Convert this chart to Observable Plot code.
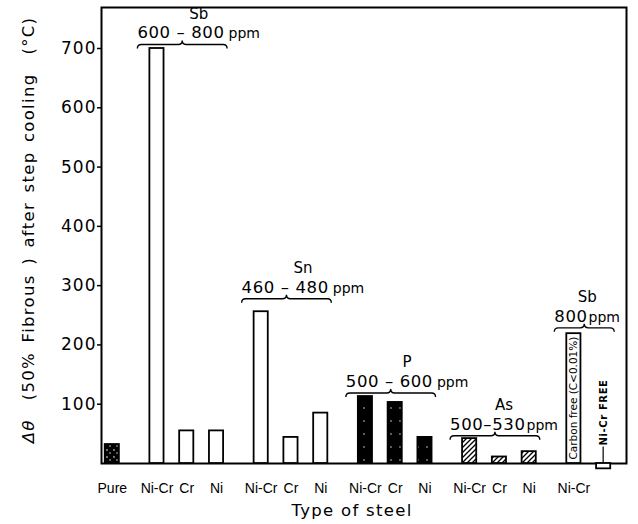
<!DOCTYPE html>
<html><head><meta charset="utf-8">
<script src="https://cdn.jsdelivr.net/npm/d3@7"></script>
<script src="https://cdn.jsdelivr.net/npm/@observablehq/plot@0.6"></script>
<style>
html,body{margin:0;padding:0;background:#fff;}
#chart{width:638px;height:524px;}
</style></head><body>
<svg width="0" height="0" style="position:absolute">
<defs>
 <pattern id="hatch" patternUnits="userSpaceOnUse" width="5" height="5">
   <rect width="5" height="5" fill="#fff"/>
   <path d="M-1,1 l2,-2 M0,5 l5,-5 M4,6 l2,-2" stroke="#000" stroke-width="1.3"/>
 </pattern>
 <pattern id="speck" patternUnits="userSpaceOnUse" width="9" height="13">
   <rect width="9" height="13" fill="#000"/>
   <circle cx="4" cy="5" r="0.7" fill="#fff"/>
 </pattern>
 <pattern id="speck2" patternUnits="userSpaceOnUse" width="7" height="7">
   <rect width="7" height="7" fill="#000"/>
   <circle cx="2" cy="2" r="0.8" fill="#fff"/>
   <circle cx="5" cy="5" r="0.7" fill="#fff"/>
 </pattern>
</defs></svg>
<div id="chart"></div>
<script>
// ---- data ----
const steels = ["Pure","Ni-Cr","Cr","Ni","Ni-Cr","Cr","Ni","Ni-Cr","Cr","Ni","Ni-Cr","Cr","Ni","Ni-Cr",""];
const elements = ["Pure","Sb","Sb","Sb","Sn","Sn","Sn","P","P","P","As","As","As","Sb*","Sb*"];
const deltaTheta = [32,700,55,55,256,44,85,113,103,44,42,11,20,219,-9];
const groupNames = ["Sb","Sn","P","As","Sb*"];
const groupElement = ["Sb","Sn","P","As","Sb"];
const groupContent = ["600 – 800","460 – 480","500 – 600","500–530","800"];
const groupPpmGap = [true,true,true,false,false];
const groupLevel = [706,277,118,46,228];
const yTicks = [100,200,300,400,500,600,700];
const carbonNote = "Carbon free (C<0.01%)";
const freeNote = "Ni-Cr FREE";
const freeNoteLevel = 28;
const xTitle = "Type of steel";
const yTitle = "(50% Fibrous ) after step cooling  (°C)";

// ---- layout helpers ----
const fillFor = el => el === "Pure" ? "url(#speck2)" : el === "P" ? "url(#speck)" : el === "As" ? "url(#hatch)" : "#fff";
const keys = [], domain = [];
deltaTheta.forEach((v, i) => {
  if (i > 0) {
    const gap = elements[i] === elements[i-1] ? 1 : 2;
    for (let g = 0; g < gap; g++) domain.push("gap" + domain.length);
  }
  keys.push("b" + i); domain.push("b" + i);
});
const data = deltaTheta.map((v, i) => ({key: keys[i], value: v, label: steels[i], fill: fillFor(elements[i])}));
const labelOf = Object.fromEntries(data.map(d => [d.key, d.label]));

const plot = Plot.plot({
  width: 638, height: 524,
  marginLeft: 101, marginRight: 12, marginTop: 7, marginBottom: 61,
  style: {fontFamily: "DejaVu Sans", fontSize: "13px", color: "#000", background: "#fff", overflow: "visible"},
  x: {type: "band", domain, range: [104.35, 610.6], paddingInner: 0.05, paddingOuter: 0.025,
      tickSize: 0, tickPadding: 20, tickFormat: k => labelOf[k] ?? "", label: null},
  y: {domain: [0, 700], range: [463, 48], ticks: yTicks, tickSize: 4, tickPadding: 1, label: null},
  color: {type: "identity"},
  marks: [
    Plot.frame({stroke: "#000", strokeWidth: 2}),
    Plot.barY(data, {x: "key", y: "value", fill: "fill", stroke: "#000", strokeWidth: 1.8})
  ]
});
document.getElementById("chart").appendChild(plot);

const svg = d3.select(plot);
svg.selectAll('g[aria-label^="y-axis"] text').attr("font-size", 17).attr("font-family", "DejaVu Sans").attr("letter-spacing", 1);
svg.selectAll('g[aria-label^="x-axis"] text').attr("font-size", 14).attr("font-family", "Liberation Sans");
svg.selectAll('g[aria-label^="y-axis"] line, g[aria-label^="y-axis"] path').attr("stroke-width", 1.5);

const xs = plot.scale("x"), ys = plot.scale("y");
const bw = xs.bandwidth;
const X = k => xs.apply(k);
const Y = v => ys.apply(v);
const ann = svg.append("g").attr("fill", "#000").attr("font-family", "DejaVu Sans").attr("text-anchor", "start");

// titles
ann.append("text").attr("x", 352).attr("y", Y(0) + 47).attr("text-anchor", "middle")
  .attr("dominant-baseline", "central").attr("font-size", 16.5).attr("letter-spacing", 1.3).text(xTitle);
const yt = ann.append("text").attr("transform", `translate(28,${(Y(0)+9)/2 - 6}) rotate(-90)`)
  .attr("text-anchor", "middle").attr("dominant-baseline", "central").attr("font-size", 16.5).attr("letter-spacing", 1.3)
  .attr("word-spacing", 3);
yt.append("tspan").attr("font-style", "italic").text("Δθ  ");
yt.append("tspan").text(yTitle);

// group brackets and labels
groupNames.forEach((name, gi) => {
  const idx = elements.map((e, i) => e === name ? i : -1).filter(i => i >= 0);
  const xa = X(keys[idx[0]]) - 12;
  const xb = X(keys[idx[idx.length - 1]]) + bw + 4;
  const y = Y(groupLevel[gi]);
  const xm = (xa + xb) / 2;
  ann.append("path").attr("fill", "none").attr("stroke", "#000").attr("stroke-width", 1.4)
    .attr("d", `M${xa},${y+4} Q${xa},${y} ${xa+4},${y} L${xm-4},${y} Q${xm},${y} ${xm},${y-4} Q${xm},${y} ${xm+4},${y} L${xb-4},${y} Q${xb},${y} ${xb},${y+4}`);
  const t = ann.append("text").attr("x", xa).attr("y", y - 6).attr("text-anchor", "start");
  t.append("tspan").attr("font-size", 16.5).attr("letter-spacing", 0.6).text(groupContent[gi]);
  t.append("tspan").attr("font-size", 14).attr("dx", groupPpmGap[gi] ? 4 : 1).text("ppm");
  const bb = t.node().getBBox();
  // element name above the concentration, kept below the frame's top edge
  ann.append("text").attr("x", bb.x + bb.width / 2).attr("y", Math.max(y - 31, 14)).attr("text-anchor", "middle")
    .attr("dominant-baseline", "central").attr("font-size", 15).text(groupElement[gi]);
});

// notes on the last two bars
const kC = keys[13], kF = keys[14];
ann.append("text").attr("transform", `translate(${X(kC) + bw/2},${Y(deltaTheta[13]/2)}) rotate(-90)`)
  .attr("text-anchor", "middle").attr("dominant-baseline", "central").attr("font-size", 10.5).text(carbonNote);
ann.append("line").attr("x1", X(kF) + bw/2).attr("x2", X(kF) + bw/2).attr("y1", Y(0)).attr("y2", Y(freeNoteLevel))
  .attr("stroke", "#000").attr("stroke-width", 1.2);
ann.append("text").attr("transform", `translate(${X(kF) + bw/2},${Y(freeNoteLevel) - 1}) rotate(-90)`)
  .attr("text-anchor", "start").attr("dominant-baseline", "central").attr("font-size", 10).attr("font-weight", "bold")
  .attr("letter-spacing", 0.6).text(freeNote);
</script>
</body></html>
